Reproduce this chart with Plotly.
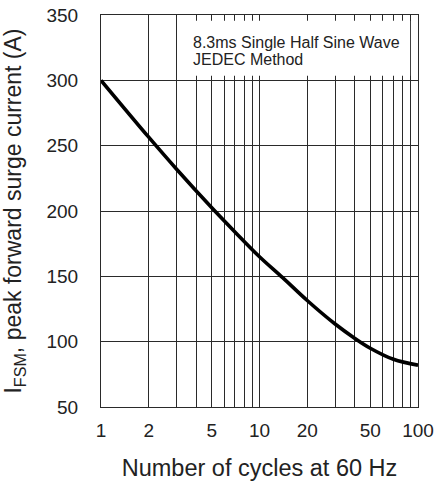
import plotly.graph_objects as go
import math

# Data
cycles = [1, 2, 3, 5, 7, 10, 14, 20, 30, 40, 50, 70, 100]
current = [300, 256.5, 232, 202.5, 184, 165, 149, 131.5, 113.5, 102.5, 95, 86.5, 82]

x_grid = [1, 2, 3, 4, 5, 6, 7, 8, 9, 10, 20, 30, 40, 50, 60, 70, 80, 90, 100]
x_labels = {1: "1", 2: "2", 5: "5", 10: "10", 20: "20", 50: "50", 100: "100"}
y_ticks = [50, 100, 150, 200, 250, 300, 350]

note_lines = ["8.3ms Single Half Sine Wave", "JEDEC Method"]

FONT = "Liberation Sans, Arial, Helvetica, sans-serif"
GRID = "#2a2a2a"

fig = go.Figure()
fig.add_trace(go.Scatter(
    x=cycles, y=current, mode="lines",
    line=dict(color="black", width=3.6, shape="spline", smoothing=1.0),
    hoverinfo="skip", showlegend=False,
))

fig.update_xaxes(
    type="log", range=[0, 2], automargin=False,
    tickvals=x_grid, ticktext=[x_labels.get(v, "") for v in x_grid],
    showgrid=True, gridcolor=GRID, gridwidth=1,
    showline=True, linecolor=GRID, linewidth=1, mirror=True,
    ticks="outside", ticklen=6, tickcolor="rgba(0,0,0,0)",
    tickfont=dict(size=19, color="#222", family=FONT),
    title=dict(text="Number of cycles at 60 Hz", font=dict(size=23.5, color="#222", family=FONT), standoff=19),
    zeroline=False,
)
fig.update_yaxes(
    range=[50, 350], tickvals=y_ticks, automargin=False,
    showgrid=True, gridcolor=GRID, gridwidth=1,
    showline=True, linecolor=GRID, linewidth=1, mirror=True,
    ticks="outside", ticklen=18, tickcolor="rgba(0,0,0,0)",
    tickfont=dict(size=19, color="#222", family=FONT),
    title=dict(text="I<sub>FSM</sub>, peak forward surge current (A)",
               font=dict(size=23, color="#222", family=FONT), standoff=18),
    zeroline=False,
)

# white note box covering the grid
fig.add_shape(type="rect", xref="paper", yref="y",
              x0=math.log10(3) / 2 + 0.002, x1=math.log10(90) / 2 - 0.002,
              y0=303.5, y1=345.6,
              fillcolor="white", line=dict(width=0), layer="above")

for i, line in enumerate(note_lines):
    fig.add_annotation(xref="paper", yref="paper",
                       x=(191 - 101) / 317, y=(407 - (42 + 18 * i)) / 392,
                       xanchor="left", yanchor="middle", align="left",
                       text=line, showarrow=False,
                       font=dict(size=16, color="#222", family=FONT))

fig.update_layout(
    width=438, height=483,
    margin=dict(l=101, r=20, t=15, b=76, autoexpand=False),
    paper_bgcolor="white", plot_bgcolor="white",
    font=dict(family=FONT),
)

fig.write_html("out.html", config={"displayModeBar": False},
               post_script="document.body.style.margin='0px';")
